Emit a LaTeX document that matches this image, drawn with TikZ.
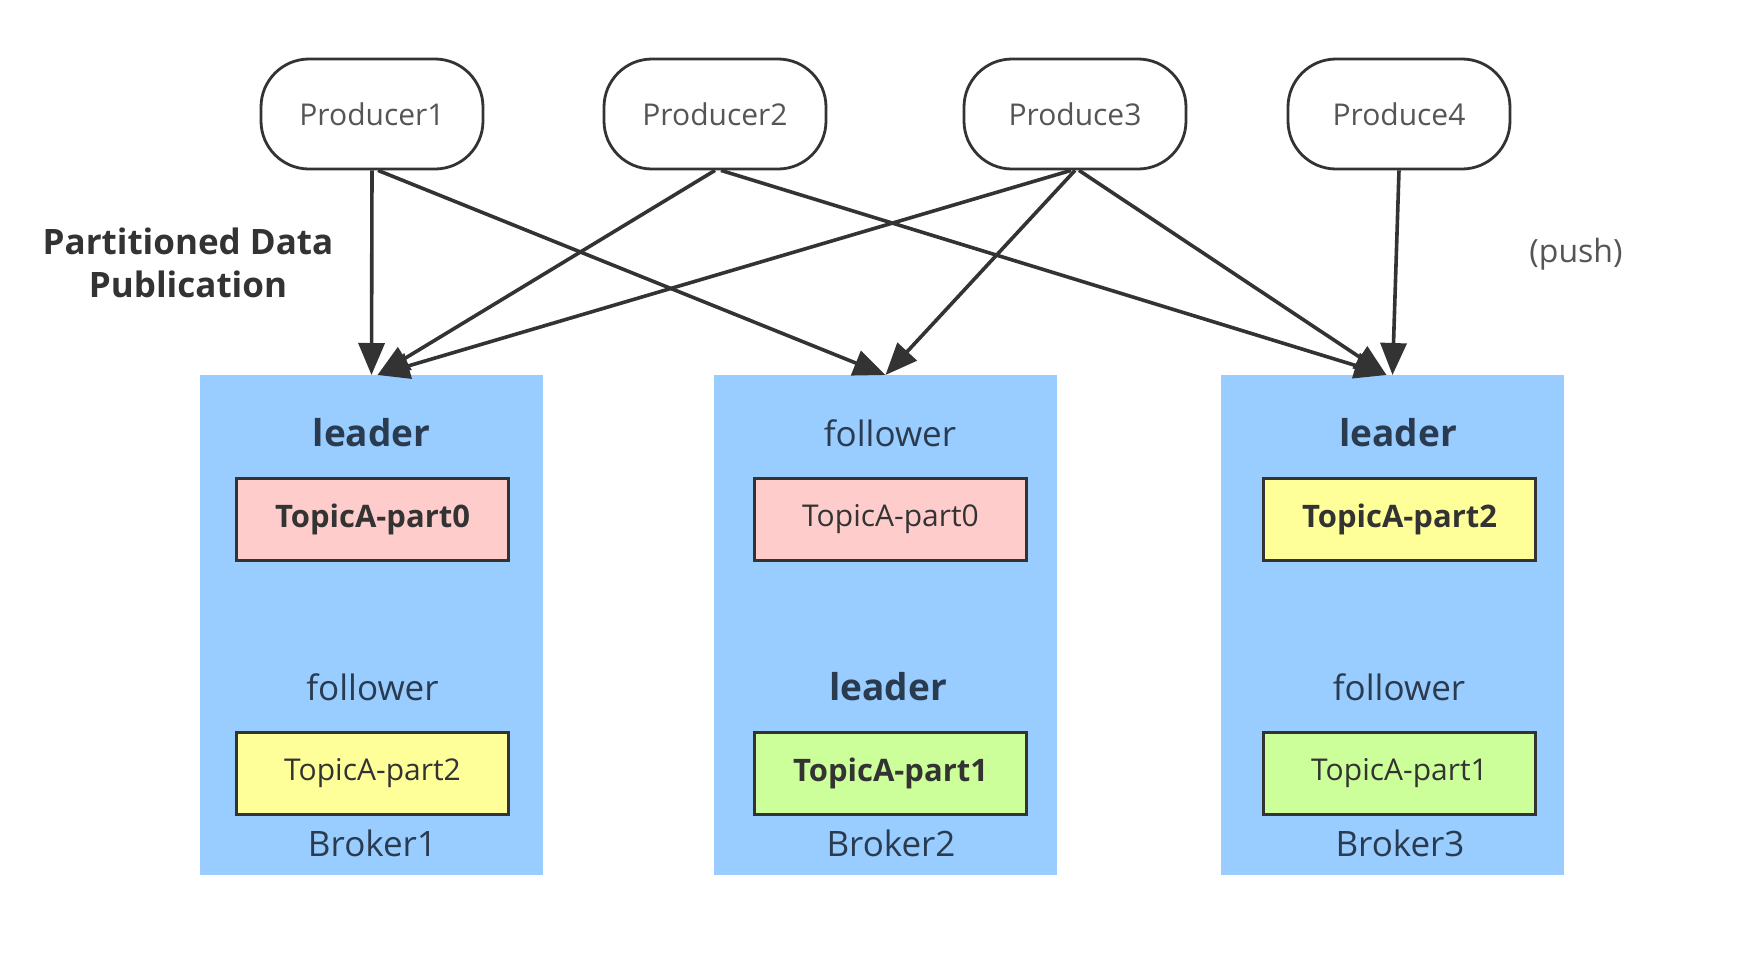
\documentclass[tikz,border=0pt]{standalone}
\usepackage{fontspec}
\setmainfont{Open Sans}
\usetikzlibrary{arrows.meta}
\definecolor{brokerblue}{HTML}{99CCFF}
\definecolor{partpink}{HTML}{FFCCCC}
\definecolor{partyellow}{HTML}{FFFF99}
\definecolor{partgreen}{HTML}{CCFF99}
\definecolor{edgegray}{HTML}{333333}
\definecolor{labelnavy}{HTML}{2A3B50}
\definecolor{softgray}{HTML}{555555}
\begin{document}
\begin{tikzpicture}[x=0.5pt,y=-0.5pt,
  producer/.style={draw=edgegray,line width=1.4pt,fill=white,rounded corners=24pt,
    minimum width=111pt,minimum height=55pt,inner sep=0pt,
    font=\fontsize{15}{17}\selectfont,text=softgray},
  broker/.style={fill=brokerblue,draw=none,minimum width=171.5pt,minimum height=250pt,
    inner sep=0pt,anchor=north},
  part/.style={draw=edgegray,line width=1.5pt,minimum width=136pt,minimum height=41pt,
    inner sep=0pt,font=\fontsize{15}{17}\selectfont,text=edgegray},
  boldpart/.style={part,font=\bfseries\fontsize{15.5}{17}\selectfont},
  role/.style={font=\fontsize{17.5}{21}\selectfont,text=labelnavy,inner sep=0pt},
  boldrole/.style={role,font=\bfseries\fontsize{18.5}{21}\selectfont},
  brokername/.style={font=\fontsize{17.5}{20}\selectfont,text=labelnavy,inner sep=0pt},
  flow/.style={draw=edgegray,line width=1.8pt,
    -{Triangle[length=16pt,width=13pt]}}
]
\useasboundingbox (0,0) rectangle (1752,960);
\fill[white] (0,0) rectangle (1752,960);

% producers
\node[producer] (p1) at (372,114) {Producer1};
\node[producer] (p2) at (715,114) {Producer2};
\node[producer] (p3) at (1075,114) {Produce3};
\node[producer] (p4) at (1399,114) {Produce4};

% brokers
\node[broker] (b1) at (371.5,375) {};
\node[broker] (b2) at (885.5,375) {};
\node[broker] (b3) at (1392.5,375) {};

% broker 1
\node[boldrole] (b1r1) at (371.5,433) {leader};
\node[boldpart,fill=partpink] (b1t1) at (372.5,519.5) {TopicA-part0};
\node[role] (b1r2) at (372.5,687) {follower};
\node[part,fill=partyellow] (b1t2) at (372.5,773) {TopicA-part2};
\node[brokername] (b1n) at (372.5,843) {Broker1};

% broker 2
\node[role] (b2r1) at (890,433) {follower};
\node[part,fill=partpink] (b2t1) at (890.5,519.5) {TopicA-part0};
\node[boldrole] (b2r2) at (888,687) {leader};
\node[boldpart,fill=partgreen] (b2t2) at (890.5,773) {TopicA-part1};
\node[brokername] (b2n) at (891,843) {Broker2};

% broker 3
\node[boldrole] (b3r1) at (1398,433) {leader};
\node[boldpart,fill=partyellow] (b3t1) at (1399.5,519.5) {TopicA-part2};
\node[role] (b3r2) at (1399,687) {follower};
\node[part,fill=partgreen] (b3t2) at (1399.5,773) {TopicA-part1};
\node[brokername] (b3n) at (1400,843) {Broker3};

% side labels
\node[font=\bfseries\fontsize{17.5}{21.5}\selectfont,text=edgegray,align=center] (title) at (188,263)
  {Partitioned Data\\Publication};
\node[font=\fontsize{16}{20}\selectfont,text=softgray] (push) at (1576,254) {(push)};

% data flows
\draw[flow] (p1.south) -- (b1.north);
\draw[flow] ([xshift=3pt]p1.south) -- (b2.north);
\draw[flow] (p2.south) -- ([xshift=3pt]b1.north);
\draw[flow] ([xshift=3pt]p2.south) -- ([xshift=-3pt]b3.north);
\draw[flow] ([xshift=-2pt]p3.south) -- ([xshift=3pt]b1.north);
\draw[flow] (p3.south) -- (b2.north);
\draw[flow] ([xshift=2pt]p3.south) -- ([xshift=-3pt]b3.north);
\draw[flow] (p4.south) -- (b3.north);
\end{tikzpicture}
\end{document}
